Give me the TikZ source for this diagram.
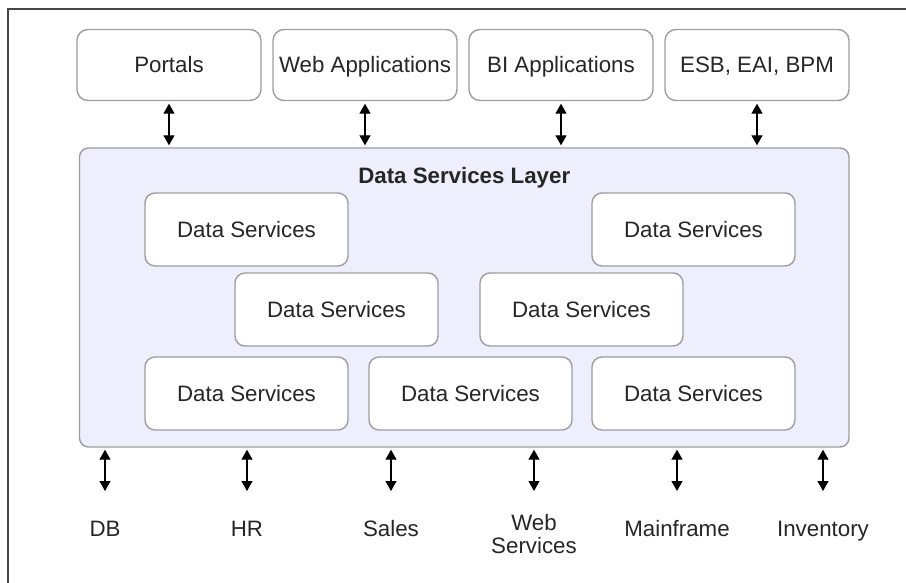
\documentclass[tikz,border=0pt]{standalone}
\usepackage{fontspec}
\setmainfont{Liberation Sans}
\usetikzlibrary{arrows.meta}
\definecolor{layerfill}{RGB}{238,238,252}
\definecolor{boxline}{RGB}{158,158,158}
\definecolor{ink}{RGB}{38,38,38}
\definecolor{frameline}{RGB}{70,70,70}
\tikzset{
  txt/.style={font=\fontsize{22.3}{22.5}\selectfont, text=ink, text height=16pt, text depth=0pt},
  appbox/.style={txt, draw=boxline, line width=1.4pt, rounded corners=11pt,
    fill=white, minimum width=184pt, minimum height=71pt, inner sep=0pt},
  svcbox/.style={appbox, minimum width=203pt, minimum height=73pt, rounded corners=10pt},
  layerbox/.style={draw=boxline, line width=1.4pt, rounded corners=9pt,
    fill=layerfill, minimum width=769.5pt, minimum height=299pt, inner sep=0pt},
  dbl/.style={{Triangle[width=11pt,length=10pt]}-{Triangle[width=11pt,length=10pt]},
    line width=1.2pt, black},
  srclabel/.style={txt, align=center, inner sep=0pt}
}
\begin{document}
\begin{tikzpicture}[x=1pt,y=-1pt]
\useasboundingbox (0,0) rectangle (906,583);
% frame
\draw[frameline, line width=1.8pt] (8,583) -- (8,9) -- (906,9);

% consumers
\node[appbox] (portals) at (169,65) {Portals};
\node[appbox] (webapps) at (365,65) {Web Applications};
\node[appbox] (biapps)  at (561,65) {BI Applications};
\node[appbox] (esb)     at (757,65) {ESB, EAI, BPM};

% data services layer
\node[layerbox] (layer) at (464.25,297.5) {};
\node[txt, font=\fontsize{22.3}{22.5}\selectfont\bfseries] (title) at (464.25,175.5) {Data Services Layer};

\node[svcbox] (ds1) at (246.5,229.5) {Data Services};
\node[svcbox] (ds2) at (693.5,229.5) {Data Services};
\node[svcbox] (ds3) at (336.5,309.5) {Data Services};
\node[svcbox] (ds4) at (581.5,309.5) {Data Services};
\node[svcbox] (ds5) at (246.5,393.5) {Data Services};
\node[svcbox] (ds6) at (470.5,393.5) {Data Services};
\node[svcbox] (ds7) at (693.5,393.5) {Data Services};

% consumer links
\foreach \n in {portals,webapps,biapps,esb}
  \draw[dbl, shorten <=2.5pt, shorten >=2pt] (\n.south) -- (\n.south |- layer.north);

% sources
\node[srclabel] (db)    at (105,528) {DB};
\node[srclabel] (hr)    at (247,528) {HR};
\node[srclabel] (sales) at (391,528) {Sales};
\node[srclabel] (ws)    at (534,545) {Web\\Services};
\node[srclabel] (mf)    at (677,528) {Mainframe};
\node[srclabel] (inv)   at (823,528) {Inventory};

\foreach \n/\x in {db/105,hr/247,sales/391,ws/534,mf/677,inv/823}{
  \coordinate (\n-port) at (\x,491);
  \draw[dbl, shorten <=2pt] (layer.south -| \n-port) -- (\n-port);
}
\end{tikzpicture}
\end{document}
